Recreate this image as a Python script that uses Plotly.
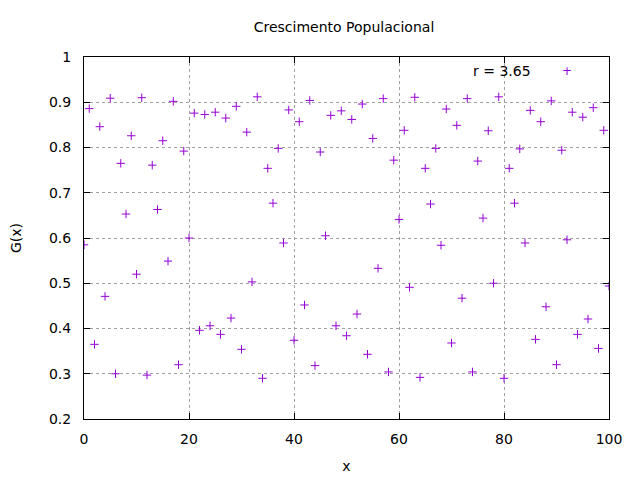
import plotly.graph_objects as go

# pontos (x = 0..100)
x_vals = list(range(101))
g_vals = [
    0.585, 0.886, 0.365, 0.846, 0.471, 0.909, 0.300, 0.765, 0.653, 0.826,
    0.520, 0.910, 0.297, 0.761, 0.663, 0.815, 0.549, 0.902, 0.320, 0.792,
    0.600, 0.876, 0.396, 0.873, 0.406, 0.878, 0.387, 0.865, 0.423, 0.891,
    0.354, 0.834, 0.503, 0.912, 0.290, 0.754, 0.677, 0.798, 0.589, 0.883,
    0.374, 0.857, 0.452, 0.904, 0.318, 0.790, 0.605, 0.871, 0.406, 0.881,
    0.384, 0.862, 0.432, 0.896, 0.343, 0.820, 0.533, 0.908, 0.304, 0.772,
    0.641, 0.838, 0.491, 0.911, 0.292, 0.754, 0.675, 0.798, 0.584, 0.885,
    0.368, 0.849, 0.467, 0.908, 0.304, 0.770, 0.644, 0.837, 0.500, 0.912,
    0.290, 0.754, 0.677, 0.797, 0.589, 0.882, 0.376, 0.857, 0.448, 0.903,
    0.320, 0.794, 0.596, 0.878, 0.387, 0.867, 0.421, 0.888, 0.356, 0.838,
    0.494,
]
x_ticks = [0, 20, 40, 60, 80, 100]
y_ticks = [0.2, 0.3, 0.4, 0.5, 0.6, 0.7, 0.8, 0.9, 1]

cor = "#9400D3"
fonte = dict(family="DejaVu Sans", size=14, color="#000000")

# a página tem 8px de margem no body, então tudo é deslocado 8px
off = 8
L, T = 84 - off, 57 - off
R, B = 640 - 609 + off, 480 - 419 + off

fig = go.Figure()
fig.add_trace(go.Scatter(
    x=x_vals, y=g_vals, mode="markers", name="r = 3.65",
    marker=dict(symbol="cross-thin", size=6, color=cor, line=dict(color=cor, width=1)),
    showlegend=False, hoverinfo="skip",
))

eixo = dict(
    showline=True, linecolor="black", linewidth=1, mirror="ticks",
    ticks="inside", ticklen=6, tickcolor="black",
    showgrid=True, gridcolor="#a0a0a0", griddash="3px,3px", gridwidth=1,
    zeroline=False, tickfont=fonte, automargin=False,
)

fig.update_xaxes(eixo, range=[0, 100], tickvals=x_ticks, ticklabelstandoff=7,
                 title=dict(text="x", font=fonte, standoff=15))
fig.update_yaxes(eixo, range=[0.2, 1], tickvals=y_ticks, ticktext=[f"{v:g}" for v in y_ticks],
                 ticklabelstandoff=9,
                 title=dict(text="G(x)", font=fonte, standoff=29))

# chave da legenda (estilo gnuplot: texto e depois o símbolo)
ky = 1 - (71 - 57) / 362
fig.add_annotation(xref="paper", yref="paper", x=(533 - 84) / 525, y=ky, text="r = 3.65",
                   showarrow=False, font=fonte, xanchor="right", yanchor="middle")
fig.add_annotation(xref="paper", yref="paper", x=(567 - 84) / 525, y=ky,
                   text="+", showarrow=False, font=dict(family="DejaVu Sans", size=12, color=cor),
                   xanchor="center", yanchor="middle")

fig.update_layout(
    width=640, height=480,
    margin=dict(l=L, r=R, t=T, b=B),
    paper_bgcolor="white", plot_bgcolor="white",
    font=fonte, hovermode=False,
    title=dict(text="Crescimento Populacional", x=(344 - 84) / 525, xref="paper",
               y=1 - (27 - off) / 480, yref="container", xanchor="center", yanchor="middle",
               font=fonte),
)

fig.write_html("out.html")
